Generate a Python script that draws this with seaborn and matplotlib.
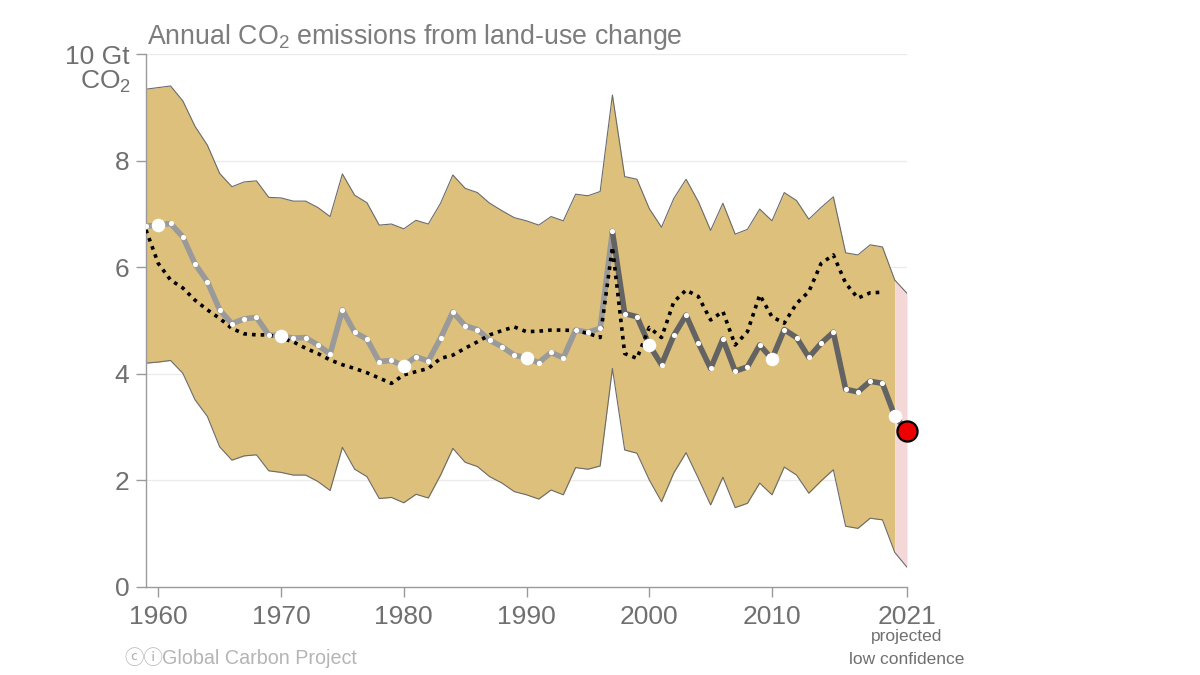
import numpy as np
import pandas as pd
import matplotlib
matplotlib.use("Agg")
import matplotlib.pyplot as plt
import seaborn as sns

years = list(range(1959, 2021))  # 1959..2020

central = [6.77, 6.79, 6.82, 6.57, 6.06, 5.73, 5.20, 4.94, 5.03, 5.06,
           4.73, 4.71, 4.67, 4.68, 4.54, 4.37, 5.20, 4.78, 4.65, 4.23,
           4.25, 4.15, 4.32, 4.24, 4.67, 5.16, 4.90, 4.83, 4.63, 4.51,
           4.35, 4.30, 4.21, 4.40, 4.30, 4.82, 4.78, 4.85, 6.67, 5.13,
           5.07, 4.54, 4.17, 4.72, 5.10, 4.58, 4.10, 4.65, 4.05, 4.13,
           4.54, 4.28, 4.83, 4.68, 4.31, 4.57, 4.78, 3.71, 3.66, 3.86,
           3.82, 3.21]

upper = [9.34, 9.37, 9.40, 9.12, 8.64, 8.29, 7.76, 7.51, 7.60, 7.62,
         7.31, 7.30, 7.24, 7.24, 7.12, 6.95, 7.75, 7.35, 7.21, 6.79,
         6.81, 6.72, 6.88, 6.81, 7.20, 7.73, 7.48, 7.40, 7.20, 7.06,
         6.93, 6.87, 6.79, 6.95, 6.87, 7.37, 7.34, 7.42, 9.23, 7.70,
         7.65, 7.10, 6.75, 7.29, 7.65, 7.23, 6.69, 7.20, 6.62, 6.71,
         7.09, 6.87, 7.40, 7.25, 6.90, 7.12, 7.32, 6.27, 6.23, 6.42,
         6.38, 5.76]

lower = [4.20, 4.22, 4.25, 4.01, 3.51, 3.20, 2.63, 2.38, 2.46, 2.48,
         2.18, 2.15, 2.10, 2.10, 1.98, 1.81, 2.62, 2.21, 2.07, 1.66,
         1.68, 1.58, 1.74, 1.67, 2.10, 2.60, 2.34, 2.26, 2.07, 1.95,
         1.79, 1.73, 1.65, 1.82, 1.73, 2.24, 2.21, 2.27, 4.10, 2.57,
         2.51, 2.01, 1.60, 2.14, 2.52, 2.04, 1.54, 2.06, 1.49, 1.57,
         1.95, 1.73, 2.25, 2.10, 1.76, 1.99, 2.20, 1.14, 1.10, 1.29,
         1.26, 0.65]

dgvm_years = list(range(1959, 2020))
dgvm = [6.70, 6.07, 5.76, 5.61, 5.38, 5.20, 5.04, 4.85, 4.75, 4.73,
        4.73, 4.67, 4.60, 4.48, 4.38, 4.26, 4.17, 4.10, 4.02, 3.92,
        3.82, 3.98, 4.04, 4.10, 4.29, 4.35, 4.48, 4.60, 4.73, 4.81,
        4.88, 4.79, 4.80, 4.82, 4.82, 4.81, 4.76, 4.68, 6.38, 4.38,
        4.29, 4.87, 4.68, 5.35, 5.57, 5.45, 5.01, 5.17, 4.54, 4.79,
        5.48, 5.07, 4.95, 5.32, 5.54, 6.07, 6.23, 5.70, 5.42, 5.52,
        5.53]

proj_years = [2020, 2021]
proj_central = [3.21, 2.93]
proj_upper = [5.76, 5.51]
proj_lower = [0.65, 0.37]

xticks = [1960, 1970, 1980, 1990, 2000, 2010, 2021]
yticks = [0, 2, 4, 6, 8, 10]
ytick_labels = ["0", "2", "4", "6", "8", "10 Gt"]

sns.set_theme(style="white")
plt.rcParams['font.family'] = ['Liberation Sans', 'DejaVu Sans', 'Noto Sans CJK SC']

df = pd.DataFrame({"year": years, "central": central, "upper": upper, "lower": lower})
dfd = pd.DataFrame({"year": dgvm_years, "dgvm": dgvm})

fig = plt.figure(figsize=(12, 6.75), dpi=100)
ax = fig.add_axes([146/1200, 1-587/675, (907-146)/1200, (587-54)/675])

tan = "#DDC07B"
pink = "#F4D8D8"
edge = "#6b6b6b"
ax.fill_between(df["year"], df["lower"], df["upper"], color=tan, lw=0, zorder=1)
ax.fill_between(proj_years, proj_lower, proj_upper, color=pink, lw=0, zorder=1)
ax.plot(years + [2021], upper + [proj_upper[1]], color=edge, lw=0.8, zorder=2)
ax.plot(years + [2021], lower + [proj_lower[1]], color=edge, lw=0.8, zorder=2)

for yv in yticks[1:]:
    ax.axhline(yv, color="#ebebeb", lw=1, zorder=0)

light = df[df["year"] <= 1997]
dark = df[df["year"] >= 1997]
sns.lineplot(data=light, x="year", y="central", color="#9a9a9a", lw=4, ax=ax, zorder=3)
sns.lineplot(data=dark, x="year", y="central", color="#636363", lw=4, ax=ax, zorder=3)
ax.plot(proj_years, proj_central, color="#636363", lw=4, zorder=3, solid_capstyle="butt")

sns.lineplot(data=dfd, x="year", y="dgvm", color="black", lw=2.6, ax=ax, zorder=4,
             linestyle=(0, (1, 1.4)))

small = df[df["year"] % 10 != 0]
big = df[df["year"] % 10 == 0]
ax.scatter(small["year"], small["central"], s=14, color="white", lw=0, zorder=5)
ax.scatter(big["year"], big["central"], s=95, color="white", lw=0, zorder=5)
ax.scatter([2021], [proj_central[1]], s=210, color="#EE0000", edgecolor="black", lw=1.6, zorder=6, clip_on=False)

ax.set_xlim(1959, 2021)
ax.set_ylim(0, 10)
ax.set_xlabel("")
ax.set_ylabel("")
ax.set_xticks(xticks)
ax.set_xticklabels([str(x) for x in xticks])
ax.set_yticks(yticks)
ax.set_yticklabels(ytick_labels)
tc = "#707070"
ax.tick_params(axis="both", colors="#9a9a9a", labelcolor=tc, labelsize=19,
               length=7, width=1, direction="out", left=True, bottom=True)
ax.tick_params(axis="x", pad=6)
ax.tick_params(axis="y", pad=5)
for s in ["top", "right"]:
    ax.spines[s].set_visible(False)
for s in ["left", "bottom"]:
    ax.spines[s].set_color("#9a9a9a")
    ax.spines[s].set_linewidth(1)

fig.text(131/1200, 1-82/675, r"CO$_\mathregular{2}$", ha="right", va="center", fontsize=19, color=tc)
fig.text(147/1200, 1-37/675, r"Annual CO$_\mathregular{2}$ emissions from land-use change", ha="left",
         va="center", fontsize=19.3, color="#7d7d7d")
fig.text(907/1200, 1-637/675, "projected", ha="center", va="center", fontsize=12.5, color=tc)
fig.text(907/1200, 1-659/675, "low confidence", ha="center", va="center", fontsize=12.5, color=tc)
fig.text(124/1200, 1-659/675, "ⓒⓘ", ha="left", va="center", fontsize=14,
         color="#b5b5b5", family=['Noto Sans CJK SC', 'DejaVu Sans'])
fig.text(162/1200, 1-659/675, "Global Carbon Project", ha="left", va="center", fontsize=14.2,
         color="#b5b5b5")

fig.savefig("out.png", dpi=100)
